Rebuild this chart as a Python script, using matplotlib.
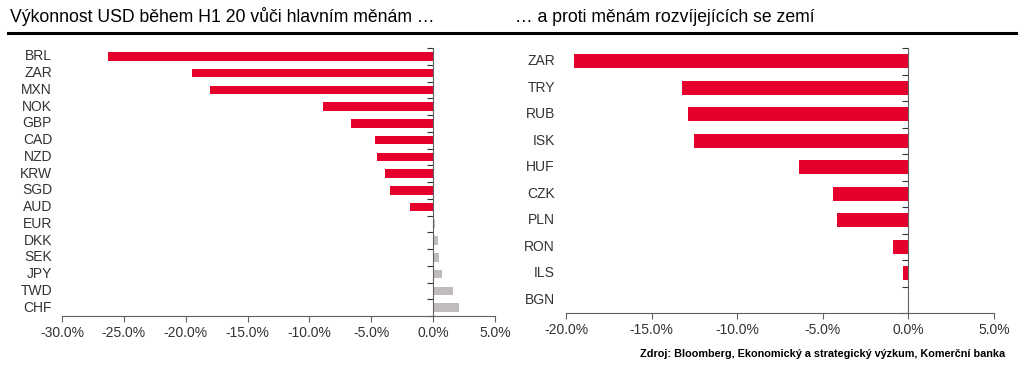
import matplotlib
matplotlib.use('Agg')
import matplotlib.pyplot as plt
import numpy as np

plt.rcParams['font.family'] = ['Liberation Sans', 'DejaVu Sans']

# left panel: USD vs major currencies
major_ccy = ['BRL', 'ZAR', 'MXN', 'NOK', 'GBP', 'CAD', 'NZD', 'KRW',
             'SGD', 'AUD', 'EUR', 'DKK', 'SEK', 'JPY', 'TWD', 'CHF']
major_val = [-26.3, -19.5, -18.0, -8.9, -6.6, -4.7, -4.5, -3.9,
             -3.5, -1.9, 0.15, 0.38, 0.49, 0.7, 1.6, 2.1]

# right panel: USD vs emerging market currencies
em_ccy = ['ZAR', 'TRY', 'RUB', 'ISK', 'HUF', 'CZK', 'PLN', 'RON', 'ILS', 'BGN']
em_val = [-19.55, -13.2, -12.9, -12.5, -6.4, -4.43, -4.18, -0.88, -0.29, 0.05]

title_left = 'Výkonnost USD během H1 20 vůči hlavním měnám …'
title_right = '… a proti měnám rozvíjejících se zemí'
source = 'Zdroj: Bloomberg, Ekonomický a strategický výzkum, Komerční banka'

RED = '#E4002B'
GREY = '#C0BCBC'
AX = '#606060'

W, H = 1024, 371
fig = plt.figure(figsize=(W / 100, H / 100), dpi=100)


def panel(rect, cats, vals, xlim, xticks, lab_x, bar_h):
    l, t, r, b = rect
    ax = fig.add_axes([l / W, 1 - b / H, (r - l) / W, (b - t) / H])
    y = np.arange(len(cats))
    cols = [RED if v < 0 else GREY for v in vals]
    ax.barh(y, vals, height=bar_h, color=cols, zorder=2)
    ax.set_ylim(len(cats) - 0.5, -0.5)
    ax.set_xlim(*xlim)
    ax.set_xticks(xticks)
    ax.set_xticklabels([f'{v:.1f}%' for v in xticks], fontsize=10, color='#333333')
    ax.set_yticks(np.arange(len(cats) + 1) - 0.5)
    ax.set_yticklabels([])
    for s in ['top', 'right']:
        ax.spines[s].set_visible(False)
    ax.spines['left'].set_position(('data', 0))
    ax.spines['left'].set_color(AX)
    ax.spines['bottom'].set_color(AX)
    ax.spines['left'].set_zorder(3)
    ax.tick_params(axis='y', length=4, color='#333333', direction='out')
    ax.tick_params(axis='x', length=4, color=AX, pad=3)
    tr = ax.get_yaxis_transform()
    for i, c in enumerate(cats):
        ax.text(lab_x, i, c, transform=tr, ha='right', va='center',
                fontsize=10, color='#333333')
    return ax


panel((62, 48, 495, 316), major_ccy, major_val, (-30, 5),
      [-30, -25, -20, -15, -10, -5, 0, 5], -0.023, 0.52)
panel((566, 48, 994, 313), em_ccy, em_val, (-20, 5),
      [-20, -15, -10, -5, 0, 5], -0.026, 0.54)

fig.text(10 / W, 1 - 17 / H, title_left, fontsize=12.7, va='center', ha='left')
fig.text(515 / W, 1 - 17 / H, title_right, fontsize=12.7, va='center', ha='left')
fig.add_artist(plt.Line2D([8 / W, 1016 / W], [1 - 32.5 / H] * 2,
                          color='black', lw=2.2, transform=fig.transFigure))
fig.text(1005 / W, 1 - 354 / H, source, fontsize=7.8, fontweight='bold',
         ha='right', va='center')

fig.savefig('out.png', dpi=100)
